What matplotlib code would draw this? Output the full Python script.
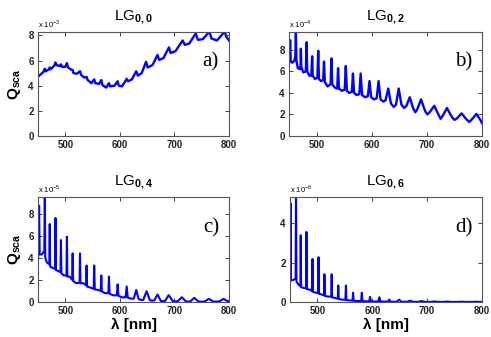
import numpy as np
import matplotlib.pyplot as plt

# values (wavelength in nm, Q_sca in units of the axis multiplier)
wl_a = [450, 455, 460, 462.5, 464, 470, 471.5, 473, 480, 482, 484, 490, 492, 494, 500, 503, 505,
        510, 513.5, 515, 521, 527, 529, 535, 539, 541, 548, 553, 555, 562, 566, 568, 575, 580, 582,
        590, 596, 598, 604, 612.5, 615, 622, 630, 633, 640, 648, 651, 660, 669, 672, 680, 690, 693,
        702, 715, 719, 727, 739, 743, 752, 764, 768, 778, 792, 795, 800]
q_a = [4.72, 4.9, 5.1, 5.35, 5.15, 5.3, 5.45, 5.3, 5.6, 5.85, 5.65, 5.55, 5.7, 5.5, 5.5, 5.8, 5.45,
       5.3, 5.25, 5.0, 4.95, 5.15, 4.85, 4.65, 4.7, 4.45, 4.2, 4.5, 4.2, 4.15, 4.45, 4.05, 3.85, 4.2, 3.95,
       4.0, 4.35, 4.0, 3.95, 4.55, 4.35, 4.5, 5.15, 4.8, 5.0, 5.9, 5.45, 5.65, 6.45, 6.05, 6.2, 7.05, 6.6,
       6.75, 7.6, 7.25, 7.35, 8.15, 7.65, 7.7, 8.3, 7.75, 7.6, 8.3, 7.9, 7.6]

wl_b = [450, 451, 452, 453, 456, 460, 461.5, 462.5, 463.5, 466, 470, 471, 471.5, 472.3, 476, 480.5,
        482, 483, 487, 490.5, 492, 493, 497, 501.5, 503, 504.3, 508, 512, 513.5, 515, 520, 525.5, 527,
        528.5, 533, 537.5, 539, 540.5, 546, 551, 553, 555, 559, 564, 566, 568, 573, 577.5, 580, 582.5,
        588, 593, 596, 599, 604, 609, 612.5, 616, 621, 625, 630, 635, 640, 644, 649, 654, 659, 663,
        669, 675, 679, 682, 689.5, 697, 701, 705, 713.5, 721, 725, 728, 736.5, 745, 750, 754, 763,
        771, 777, 781, 790, 797, 800]
q_b = [6.7, 7.0, 8.9, 7.0, 6.8, 7.0, 7.4, 9.7, 7.0, 6.3, 6.2, 6.6, 8.1, 6.4, 5.9, 6.0,
       8.7, 6.0, 5.6, 5.6, 7.4, 5.6, 5.3, 5.4, 7.9, 5.3, 5.1, 5.2, 6.9, 5.0, 4.6, 4.8, 7.2,
       4.8, 4.5, 4.4, 6.3, 4.4, 4.2, 4.3, 6.5, 4.2, 4.0, 4.1, 5.8, 4.0, 3.8, 3.9, 5.8, 3.8,
       3.6, 3.7, 5.1, 3.6, 3.4, 3.5, 5.1, 3.4, 3.2, 3.3, 4.4, 3.0, 2.7, 2.9, 4.4, 2.9, 2.6, 2.8,
       3.6, 2.6, 2.2, 2.4, 3.4, 2.3, 2.0, 2.2, 2.8, 2.0, 1.6, 1.8, 2.6, 1.8, 1.5, 1.6, 2.1,
       1.6, 1.3, 1.5, 2.05, 1.5, 1.2]

wl_c = [450, 451.2, 452, 453, 457, 461.6, 462.5, 463.3, 466, 470.7, 471.5, 472.3, 476, 481.2, 482,
        482.8, 487, 491.2, 492, 492.8, 497, 502.2, 503, 503.8, 508, 512.7, 513.5, 514.3, 520, 526.2,
        527, 527.8, 533, 538.2, 539, 539.9, 546, 552, 553, 554, 559, 565, 566, 567, 573, 579, 580,
        581.2, 588, 594.5, 596, 597.5, 604, 610.5, 612.5, 614.5, 621, 625.5, 630, 634.5, 640, 643,
        649, 655, 659, 663, 669, 675, 679, 683, 689.5, 697, 701, 706, 713.5, 721, 725, 729, 736.5,
        744, 750, 755, 763, 771, 777, 782, 790, 798, 800]
q_c = [3.8, 5.0, 8.7, 4.3, 4.3, 4.6, 9.9, 4.0, 3.6, 3.4, 7.05, 3.2, 3.1, 3.0, 7.6,
       2.9, 2.8, 2.7, 5.6, 2.6, 2.4, 2.4, 5.9, 2.3, 2.3, 2.0, 4.4, 1.9, 1.7, 1.75,
       4.4, 1.7, 1.7, 1.5, 3.3, 1.4, 1.3, 1.2, 3.3, 1.15, 1.1, 1.0, 2.4, 0.95, 0.8, 0.8, 2.3,
       0.75, 0.6, 0.6, 1.6, 0.55, 0.42, 0.42, 1.4, 0.38, 0.3, 0.3, 1.08, 0.25, 0.18, 0.2,
       0.98, 0.17, 0.12, 0.14, 0.68, 0.1, 0.07, 0.1, 0.62, 0.07, 0.04, 0.06, 0.43, 0.05, 0.03, 0.05, 0.37,
       0.04, 0.02, 0.04, 0.28, 0.04, 0.03, 0.05, 0.28, 0.05, 0.1]

wl_d = [450, 450.5, 451, 451.8, 456, 460.3, 461, 461.8, 465, 469, 469.6, 470.3, 474, 479.4, 480,
        480.7, 487, 490.4, 491, 491.7, 496, 501.4, 502, 502.7, 508, 512.1, 512.8, 513.6, 518, 525.3,
        526, 526.8, 532, 537.2, 538, 538.9, 545, 551, 552, 553, 559, 564, 565, 566.2, 573, 579.8, 581,
        582.3, 588, 594.6, 596, 597.5, 604, 611, 613, 615, 621, 628.5, 631, 633.5, 640, 645, 649,
        653, 660, 664, 669, 674, 680, 684, 690, 696, 707, 713.5, 720, 730, 736.5, 743, 755, 763, 771,
        782, 790, 798, 800]
q_d = [1.07, 2.0, 5.03, 1.1, 1.12, 1.2, 5.8, 1.05, 0.9, 0.8, 3.4, 0.76, 0.72, 0.7, 3.57,
       0.66, 0.62, 0.56, 2.19, 0.52, 0.48, 0.46, 2.28, 0.42, 0.38, 0.34, 1.41, 0.32, 0.28, 0.27,
       1.41, 0.24, 0.2, 0.17, 0.84, 0.15, 0.12, 0.11, 0.84, 0.1, 0.08, 0.07, 0.47, 0.06, 0.05, 0.05, 0.47,
       0.04, 0.035, 0.035, 0.26, 0.03, 0.025, 0.025, 0.24, 0.02, 0.02, 0.02, 0.12, 0.015, 0.01, 0.015, 0.12,
       0.01, 0.01, 0.01, 0.07, 0.01, 0.005, 0.01, 0.05, 0.005, 0.005, 0.025, 0.004, 0.003, 0.02, 0.003,
       0.002, 0.012, 0.002, 0.002, 0.01, 0.002, 0.002]

titles = ['LG$_{\\mathbf{0,0}}$', 'LG$_{\\mathbf{0,2}}$', 'LG$_{\\mathbf{0,4}}$', 'LG$_{\\mathbf{0,6}}$']
tags = ['a)', 'b)', 'c)', 'd)']
exps = ['-3', '-4', '-5', '-6']
ylims = [8.27, 9.65, 9.5, 5.35]
yticks = [[0, 2, 4, 6, 8], [0, 2, 4, 6, 8], [0, 2, 4, 6, 8], [0, 2, 4]]
xticks = [500, 600, 700, 800]

plt.rcParams['font.family'] = ['Liberation Sans', 'DejaVu Sans']
plt.rcParams['mathtext.fontset'] = 'custom'
plt.rcParams['mathtext.rm'] = 'Liberation Sans'
plt.rcParams['mathtext.bf'] = 'Liberation Sans:bold'

fig = plt.figure(figsize=(4.91, 3.37), dpi=100)

# axes boxes in figure fractions
boxes = [[0.0774, 0.5964, 0.389, 0.3086],
         [0.5886, 0.5964, 0.393, 0.3086],
         [0.0774, 0.1039, 0.389, 0.3116],
         [0.5906, 0.1039, 0.391, 0.3116]]
data = [(wl_a, q_a), (wl_b, q_b), (wl_c, q_c), (wl_d, q_d)]

for i in range(4):
    ax = fig.add_axes(boxes[i])
    x, y = data[i]
    ax.plot(x, y, color='#0000ff', lw=1.7 if i < 2 else 1.5, solid_joinstyle='round')
    ax.set_xlim(450, 800)
    ax.set_ylim(0, ylims[i])
    ax.set_xticks(xticks)
    ax.set_yticks(yticks[i])
    ax.tick_params(direction='in', length=3, width=0.6, top=True, right=True,
                   labelsize=7, pad=3, colors='#222222')
    for lab in ax.get_xticklabels() + ax.get_yticklabels():
        lab.set_fontweight('bold')
    for sp in ax.spines.values():
        sp.set_color('#555555')
        sp.set_linewidth(0.8)
    ax.set_title(titles[i], fontsize=11, pad=9)
    ax.text(0.0, 1.015, 'x 10$^{%s}$' % exps[i], transform=ax.transAxes,
            fontsize=5.5, ha='left', va='bottom')
    ax.text(0.905, 0.71, tags[i], transform=ax.transAxes, fontsize=15,
            family='Liberation Serif', ha='center', va='center')
    if i % 2 == 0:
        ax.set_ylabel('Q$_{\\mathbf{sca}}$', fontsize=11, fontweight='bold', labelpad=4)
    if i >= 2:
        ax.set_xlabel('λ [nm]', fontsize=11, fontweight='bold', labelpad=1)

fig.savefig('out.png', dpi=100)
